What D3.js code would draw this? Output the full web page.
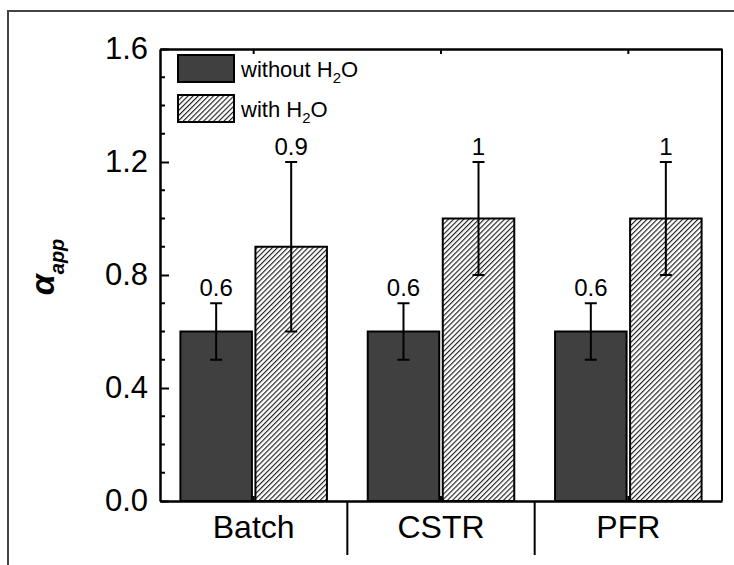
<!DOCTYPE html>
<html>
<head>
<meta charset="utf-8">
<script src="https://cdn.jsdelivr.net/npm/d3@7"></script>
<style>
  body { margin: 0; background: #fff; }
  text { font-family: Arial, "Liberation Sans", sans-serif; fill: #000; }
</style>
</head>
<body>
<div id="chart"></div>
<script>
const categories = ['Batch', 'CSTR', 'PFR'];
const seriesNames = ['without', 'with'];
const withoutH2O = [0.6, 0.6, 0.6];
const withH2O = [0.9, 1.0, 1.0];
const withoutErr = [0.1, 0.1, 0.1];
const withErr = [0.3, 0.2, 0.2];
const valueLabels = [['0.6', '0.9'], ['0.6', '1'], ['0.6', '1']];
const yTicks = [0, 0.4, 0.8, 1.2, 1.6];

const width = 734;
const height = 565;
const margin = { top: 49, right: 12, bottom: 64, left: 160 };

const svg = d3.select('#chart')
  .append('svg')
  .attr('width', width)
  .attr('height', height);

// hatch for the "with H2O" bars
const defs = svg.append('defs');
defs.append('pattern')
  .attr('id', 'hatch')
  .attr('patternUnits', 'userSpaceOnUse')
  .attr('width', 3.6)
  .attr('height', 10)
  .attr('patternTransform', 'rotate(45)')
  .call(p => {
    p.append('rect').attr('width', 3.6).attr('height', 10).attr('fill', '#fff');
    p.append('line')
      .attr('x1', 0.6).attr('x2', 0.6)
      .attr('y1', 0).attr('y2', 10)
      .attr('stroke', '#000')
      .attr('stroke-width', 1);
  });

const fills = { without: '#404040', with: 'url(#hatch)' };

// outer frame of the figure
svg.append('rect')
  .attr('x', 8)
  .attr('y', 11)
  .attr('width', 760)
  .attr('height', 600)
  .attr('fill', 'none')
  .attr('stroke', '#444')
  .attr('stroke-width', 2);

const x = d3.scaleBand()
  .domain(categories)
  .range([margin.left, width - margin.right]);

const xSub = d3.scaleBand()
  .domain(seriesNames)
  .range([0, x.bandwidth()])
  .paddingInner(0.047)
  .paddingOuter(0.272);

const y = d3.scaleLinear()
  .domain([0, 1.6])
  .range([height - margin.bottom, margin.top]);

const data = categories.flatMap((c, i) => [
  { cat: c, series: 'without', value: withoutH2O[i], err: withoutErr[i], label: valueLabels[i][0] },
  { cat: c, series: 'with', value: withH2O[i], err: withErr[i], label: valueLabels[i][1] },
]);

// bars
svg.append('g')
  .selectAll('rect')
  .data(data)
  .enter()
  .append('rect')
  .attr('x', d => x(d.cat) + xSub(d.series))
  .attr('y', d => y(d.value))
  .attr('width', xSub.bandwidth())
  .attr('height', d => y(0) - y(d.value))
  .attr('fill', d => fills[d.series])
  .attr('stroke', '#000')
  .attr('stroke-width', 2);

// error bars
const errG = svg.append('g')
  .attr('stroke', '#000')
  .attr('stroke-width', 2);
const cx = d => x(d.cat) + xSub(d.series) + xSub.bandwidth() / 2;

errG.selectAll('.stem')
  .data(data)
  .enter()
  .append('line')
  .attr('x1', cx).attr('x2', cx)
  .attr('y1', d => y(d.value - d.err))
  .attr('y2', d => y(d.value + d.err));

['top', 'bottom'].forEach(side => {
  errG.selectAll(`.cap-${side}`)
    .data(data)
    .enter()
    .append('line')
    .attr('x1', d => cx(d) - 6).attr('x2', d => cx(d) + 6)
    .attr('y1', d => y(side === 'top' ? d.value + d.err : d.value - d.err))
    .attr('y2', d => y(side === 'top' ? d.value + d.err : d.value - d.err));
});

// value labels over the error bars
svg.append('g')
  .selectAll('text')
  .data(data)
  .enter()
  .append('text')
  .attr('x', cx)
  .attr('y', d => y(d.value + d.err) - 7)
  .attr('text-anchor', 'middle')
  .style('font-size', '24px')
  .text(d => d.label);

// y axis, ticks point inward
const yAxis = svg.append('g')
  .attr('transform', `translate(${margin.left},0)`)
  .call(d3.axisLeft(y)
    .tickValues(yTicks)
    .tickFormat(d3.format('.1f'))
    .tickSizeInner(-9)
    .tickSizeOuter(0)
    .tickPadding(12));
yAxis.selectAll('text').style('font-size', '31px');

svg.append('g')
  .attr('transform', `translate(${margin.left},0)`)
  .selectAll('line')
  .data(d3.range(1, 16).filter(i => i % 4 !== 0).map(i => i / 10))
  .enter()
  .append('line')
  .attr('x1', 0).attr('x2', 5)
  .attr('y1', d => y(d)).attr('y2', d => y(d))
  .attr('stroke', '#000')
  .attr('stroke-width', 2);

// top axis (mirror)
svg.append('g')
  .attr('transform', `translate(0,${margin.top})`)
  .call(d3.axisTop(x).tickSizeInner(-5).tickSizeOuter(0).tickFormat(''));

// bottom axis with category labels
const xAxis = svg.append('g')
  .attr('transform', `translate(0,${height - margin.bottom})`)
  .call(d3.axisBottom(x).tickSizeInner(-5).tickSizeOuter(0).tickPadding(14));
xAxis.selectAll('text').style('font-size', '32px');

// right frame
svg.append('line')
  .attr('x1', width - margin.right).attr('x2', width - margin.right)
  .attr('y1', margin.top).attr('y2', height - margin.bottom)
  .attr('stroke', '#000')
  .attr('stroke-width', 2);

svg.selectAll('.domain').attr('stroke-width', 2.5);
svg.selectAll('.tick line').attr('stroke-width', 2);

// category separators under the axis
svg.append('g')
  .selectAll('line')
  .data(categories.slice(1))
  .enter()
  .append('line')
  .attr('x1', d => x(d)).attr('x2', d => x(d))
  .attr('y1', height - margin.bottom)
  .attr('y2', height - margin.bottom + 54)
  .attr('stroke', '#000')
  .attr('stroke-width', 2);

// y label
const yLabel = svg.append('text')
  .attr('transform', `translate(54,${(margin.top + height - margin.bottom) / 2 - 8}) rotate(-90)`)
  .attr('text-anchor', 'middle')
  .style('font-weight', 'bold')
  .style('font-style', 'italic');
yLabel.append('tspan').style('font-size', '34px').text('α');
yLabel.append('tspan').style('font-size', '20px').attr('dy', 10).text('app');

// legend
const legendItems = [
  { series: 'without', pre: 'without H' },
  { series: 'with', pre: 'with H' },
];
const legend = svg.append('g')
  .selectAll('g')
  .data(legendItems)
  .enter()
  .append('g')
  .attr('transform', (d, i) => `translate(178,${55 + i * 40})`);

legend.append('rect')
  .attr('width', 56)
  .attr('height', 27)
  .attr('fill', d => fills[d.series])
  .attr('stroke', '#000')
  .attr('stroke-width', 2);

const lt = legend.append('text')
  .attr('x', 63)
  .attr('y', 22)
  .style('font-size', '22px');
lt.append('tspan').text(d => d.pre);
lt.append('tspan').style('font-size', '15px').attr('dy', 6).text('2');
lt.append('tspan').attr('dy', -6).text('O');
</script>
</body>
</html>
